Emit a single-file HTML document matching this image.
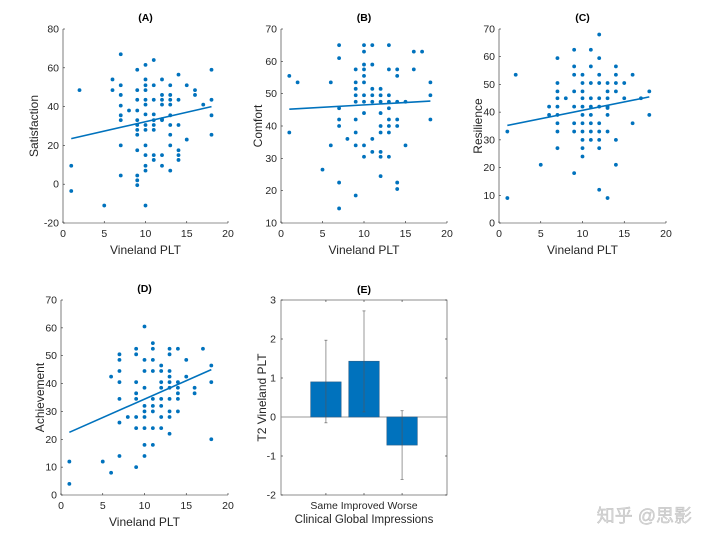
<!DOCTYPE html>
<html><head><meta charset="utf-8"><style>
body{margin:0;background:#fff;}
svg{display:block;font-family:"Liberation Sans","Noto Sans CJK SC",sans-serif;}
</style></head><body>
<svg id="fig" width="720" height="542" viewBox="0 0 720 542" xmlns="http://www.w3.org/2000/svg">
<text x="692" y="522" font-size="18" fill="#d8d8d8" text-anchor="end" stroke="#bbb" stroke-width="0.4">知乎 @思影</text>
</svg>
<script>
const scoreLevels=[1,2,5,6,7,8,9,10,11,12,13,14,15,16,17,18];
const satisfactionData=[[9.5,-3.5],[48.5],[-11],[54,48.5],[67,51,46,40.5,35.5,33,20,4.5],[38],[59,48.5,43.5,38,33,30.5,28,25.5,17.5,4.5,2,-0.5],[61.5,54,51,48.5,43.5,41,36,30.5,28,20,15,9.5,7,-11],[64,51,43.5,36,33,30.5,28,15,12.5],[54,46,43.5,41,33.5,33,15,9.5],[51,46,43.5,41,35.5,30.5,25.5,20,7],[56.5,43.5,30.5,17.5,15,12.5],[51,23],[48.5,46],[41],[59,43.5,35.5,25.5]];
const comfortData=[[55.5,38],[53.5],[26.5],[53.5,34],[65,61,45.5,42,40,22.5,14.5],[36],[57.5,53.5,51.5,49.5,47.5,42,38,34,18.5],[65,63,59,57.5,55.5,53.5,49.5,47.5,44,34,30.5],[65,59,51.5,49.5,47.5,36,32],[51.5,49.5,47.5,44,40,38,32,30.5,24.5],[65,57.5,49.5,47.5,45.5,42,40,38,30.5],[57.5,55.5,47.5,42,40,22.5,20.5],[47.5,34],[63,57.5],[63],[53.5,49.5,42]];
const resilienceData=[[33,9],[53.5],[21],[42,39],[59.5,50.5,47.5,45,42,39,36,33,27],[45],[62.5,56.5,53.5,47.5,42,36,33,18],[53.5,50.5,47.5,45,42,39,36,33,30,27,24],[62.5,56.5,50.5,45,42,39,36,33,30],[68,59.5,53.5,50.5,45,42,36,33,30,27,12],[50.5,47.5,45,42,41.5,39,33,9],[56.5,53.5,50.5,47.5,30,21],[50.5,45],[53.5,36],[45],[47.5,39]];
const achievementData=[[12,4],[],[12],[42.5,8],[50.5,48.5,44.5,40.5,34.5,26,14],[28],[52.5,50.5,40.5,36.5,34.5,28,24,10],[60.5,48.5,44.5,38.5,32,30,28,24,18,14],[54.5,52.5,48.5,44.5,34.5,32,30,24,18],[46.5,44.5,40.5,38.5,34.5,32,28,24],[52.5,50.5,44.5,42.5,40.5,38.5,34.5,30,28,22],[52.5,40.5,38.5,36.5,34.5,30],[48.5,42.5],[38.5,36.5],[52.5],[46.5,40.5,20]];
const fitLines={A:[23.5,40],B:[45.2,47.7],C:[35.2,45.5],D:[22.5,45]};
const xTicks=[0,5,10,15,20];
const cgiCategories=["Same","Improved","Worse"];
const cgiMeans=[0.9,1.43,-0.72];
const cgiLower=[-0.15,0.13,-1.6];
const cgiUpper=[1.97,2.72,0.16];
const eTicks=[-2,-1,0,1,2,3];

const NS="http://www.w3.org/2000/svg";
const svg=document.getElementById('fig');
function mk(tag,attrs,parent,text){const e=document.createElementNS(NS,tag);for(const k in attrs)e.setAttribute(k,attrs[k]);if(text!==undefined)e.textContent=text;(parent||svg).appendChild(e);return e;}
const BLUE="#0072BD",AX="#262626";

function scatterPanel(cfg){
  const g=mk('g',{});
  
  
  const sx=v=>cfg.x0+(v-0)/20*(cfg.x1-cfg.x0);
  const sy=v=>cfg.yb-(v-cfg.ymin)/(cfg.ymax-cfg.ymin)*(cfg.yb-cfg.yt);
  // axes
  mk('line',{x1:cfg.x0,y1:cfg.yt,x2:cfg.x0,y2:cfg.yb,stroke:AX,'stroke-width':0.6},g);
  mk('line',{x1:cfg.x0,y1:cfg.yb,x2:cfg.x1,y2:cfg.yb,stroke:AX,'stroke-width':0.6},g);
  xTicks.forEach(t=>{
    mk('line',{x1:sx(t),y1:cfg.yb,x2:sx(t),y2:cfg.yb-2,stroke:AX,'stroke-width':0.6},g);
    const tl=mk('text',{x:sx(t),y:cfg.yb+14,'font-size':10.5,fill:AX,'text-anchor':'middle'},g,t);
    
    
  });
  for(let t=cfg.ymin;t<=cfg.ymax;t+=cfg.ystep){
    mk('line',{x1:cfg.x0,y1:sy(t),x2:cfg.x0+2,y2:sy(t),stroke:AX,'stroke-width':0.6},g);
    const tl=mk('text',{x:cfg.x0-4,y:sy(t)+3.5,'font-size':10.5,fill:AX,'text-anchor':'end'},g,t);
    
    
  }
  const ti=mk('text',{x:(cfg.x0+cfg.x1)/2,y:cfg.yt-8,'font-size':10.5,'font-weight':'bold',fill:'#000','text-anchor':'middle'},g,cfg.title);
  
  
  const xl=mk('text',{x:(cfg.x0+cfg.x1)/2,y:cfg.yb+31,'font-size':12,fill:AX,'text-anchor':'middle'},g,'Vineland PLT');
  
  
  const cy=(cfg.yt+cfg.yb)/2;
  const yl=mk('text',{x:cfg.ylx,y:cy,'font-size':12,fill:AX,'text-anchor':'middle',transform:`rotate(-90 ${cfg.ylx} ${cy})`},g,cfg.ylabel);
  
  
  cfg.data.forEach((ys,i)=>{ys.forEach(v=>{
    const c=mk('circle',{cx:sx(scoreLevels[i]),cy:sy(v),r:1.9,fill:BLUE},g);
    
    
  });});
  const fl=mk('line',{x1:sx(1),y1:sy(cfg.fit[0]),x2:sx(18),y2:sy(cfg.fit[1]),stroke:BLUE,'stroke-width':1.6},g);
  
  
}
scatterPanel({name:'panel-a-satisfaction',title:'(A)',ylabel:'Satisfaction',data:satisfactionData,fit:fitLines.A,x0:63,x1:228,yt:29,yb:223,ymin:-20,ymax:80,ystep:20,ylx:38});
scatterPanel({name:'panel-b-comfort',title:'(B)',ylabel:'Comfort',data:comfortData,fit:fitLines.B,x0:281,x1:447,yt:29,yb:223,ymin:10,ymax:70,ystep:10,ylx:262});
scatterPanel({name:'panel-c-resilience',title:'(C)',ylabel:'Resilience',data:resilienceData,fit:fitLines.C,x0:499,x1:666,yt:29,yb:223,ymin:0,ymax:70,ystep:10,ylx:482});
scatterPanel({name:'panel-d-achievement',title:'(D)',ylabel:'Achievement',data:achievementData,fit:fitLines.D,x0:61,x1:228,yt:300,yb:495,ymin:0,ymax:70,ystep:10,ylx:44});

// Panel E
(function(){
  const g=mk('g',{});
  
  
  const x0=281,x1=447,yt=300,yb=495;
  const sx=v=>x0+(v+0.18)/4.36*(x1-x0);
  const sy=v=>yb-(v+2)/5*(yb-yt);
  mk('rect',{x:x0,y:yt,width:x1-x0,height:yb-yt,fill:'none',stroke:'#444','stroke-width':0.6},g);
  eTicks.forEach(t=>{
    mk('line',{x1:x0,y1:sy(t),x2:x0+2,y2:sy(t),stroke:AX,'stroke-width':0.6},g);
    mk('line',{x1:x1,y1:sy(t),x2:x1-2,y2:sy(t),stroke:AX,'stroke-width':0.6},g);
    const tl=mk('text',{x:x0-5,y:sy(t)+3.5,'font-size':10.5,fill:AX,'text-anchor':'end'},g,t);
    
    
  });
  cgiCategories.forEach((c,i)=>{
    const cx=sx(i+1);
    mk('line',{x1:cx,y1:yb,x2:cx,y2:yb-2,stroke:AX,'stroke-width':0.6},g);
    mk('line',{x1:cx,y1:yt,x2:cx,y2:yt+2,stroke:AX,'stroke-width':0.6},g);
  });
  mk('line',{x1:x0,y1:sy(0),x2:x1,y2:sy(0),stroke:'#999','stroke-width':1},g);
  const bw=0.8*(sx(2)-sx(1));
  cgiMeans.forEach((m,i)=>{
    const cx=sx(i+1);
    const b=mk('rect',{x:cx-bw/2,y:Math.min(sy(m),sy(0)),width:bw,height:Math.abs(sy(m)-sy(0)),fill:BLUE,stroke:'#2a5f8a','stroke-width':0.6},g);
    
    
    const e=mk('line',{x1:cx,y1:sy(cgiLower[i]),x2:cx,y2:sy(cgiUpper[i]),stroke:'#555','stroke-width':0.6},g);
    
    
    mk('line',{x1:cx-1.5,y1:sy(cgiLower[i]),x2:cx+1.5,y2:sy(cgiLower[i]),stroke:'#555','stroke-width':0.6},g);
    mk('line',{x1:cx-1.5,y1:sy(cgiUpper[i]),x2:cx+1.5,y2:sy(cgiUpper[i]),stroke:'#555','stroke-width':0.6},g);
  });
  const cl=mk('text',{x:sx(2),y:yb+14,'font-size':10.5,fill:AX,'text-anchor':'middle'},g,cgiCategories.join(' '));
  
  
  const xl=mk('text',{x:(x0+x1)/2,y:yb+28,'font-size':11.5,fill:AX,'text-anchor':'middle'},g,'Clinical Global Impressions');
  
  
  const ti=mk('text',{x:(x0+x1)/2,y:yt-7,'font-size':10.5,'font-weight':'bold',fill:'#000','text-anchor':'middle'},g,'(E)');
  
  
  const cy=(yt+yb)/2;
  const yl=mk('text',{x:266,y:cy,'font-size':12,fill:AX,'text-anchor':'middle',transform:`rotate(-90 266 ${cy})`},g,'T2 Vineland PLT');
  
  
})();
</script>
</body></html>
